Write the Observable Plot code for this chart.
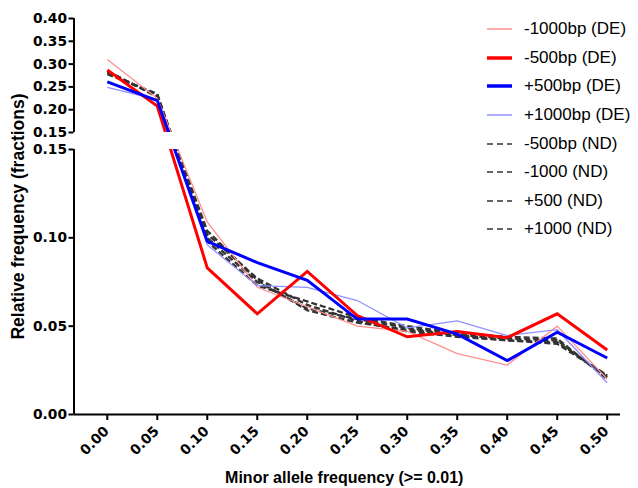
<!DOCTYPE html>
<html><head><meta charset="utf-8">
<script src="https://cdn.jsdelivr.net/npm/d3@7"></script>
<script src="https://cdn.jsdelivr.net/npm/@observablehq/plot@0.6"></script>
<style>
body{margin:0;background:#fff;}
#wrap{position:relative;width:638px;height:488px;overflow:hidden;}
#legend{position:absolute;left:487px;top:15px;font-family:"Liberation Sans",Arial,sans-serif;font-size:17px;color:#000;}
.row{display:flex;align-items:center;height:28.6px;white-space:nowrap;}
.row svg{margin-right:12px;flex:none;}
</style></head><body><div id="wrap"><div id="legend"></div></div>
<script>
// Minor allele frequency bins (x)
const maf = [0.00, 0.05, 0.10, 0.15, 0.20, 0.25, 0.30, 0.35, 0.40, 0.45, 0.50];
const seriesNames = ["-1000bp (DE)", "-500bp (DE)", "+500bp (DE)", "+1000bp (DE)", "-500bp (ND)", "-1000 (ND)", "+500 (ND)", "+1000 (ND)"];
// Relative frequency values
const minus1000DE = [0.310, 0.225, 0.109, 0.072, 0.061, 0.050, 0.047, 0.0345, 0.028, 0.050, 0.020];
const minus500DE  = [0.287, 0.208, 0.083, 0.057, 0.081, 0.056, 0.044, 0.047, 0.0435, 0.057, 0.0365];
const plus500DE   = [0.261, 0.220, 0.098, 0.086, 0.076, 0.054, 0.054, 0.0455, 0.0305, 0.0466, 0.032];
const plus1000DE  = [0.249, 0.222, 0.096, 0.073, 0.072, 0.0645, 0.049, 0.053, 0.0447, 0.048, 0.018];
const minus500ND  = [0.282, 0.232, 0.100, 0.075, 0.060, 0.054, 0.049, 0.045, 0.043, 0.042, 0.021];
const minus1000ND = [0.285, 0.228, 0.102, 0.077, 0.062, 0.053, 0.047, 0.044, 0.042, 0.040, 0.022];
const plus500ND   = [0.278, 0.235, 0.098, 0.073, 0.064, 0.055, 0.050, 0.046, 0.044, 0.043, 0.020];
const plus1000ND  = [0.283, 0.230, 0.104, 0.076, 0.059, 0.052, 0.048, 0.045, 0.042, 0.041, 0.022];
// Axis ticks (lower and upper segment of the broken y axis)
const yTickValuesLow = [0.00, 0.05, 0.10, 0.15];
const yTickValuesHigh = [0.15, 0.20, 0.25, 0.30, 0.35, 0.40];
const xTitle = "Minor allele frequency (>= 0.01)";
const yTitle = "Relative frequency (fractions)";

const valuesList = [minus1000DE, minus500DE, plus500DE, plus1000DE, minus500ND, minus1000ND, plus500ND, plus1000ND];
const styles = [
  {color: "#ff8f8f", width: 1.3, dash: null, lw: 1.5},
  {color: "#ff0000", width: 3, dash: null, lw: 3.5},
  {color: "#0000ff", width: 3, dash: null, lw: 3.5},
  {color: "#8f8fff", width: 1.3, dash: null, lw: 1.5},
  {color: "#333333", width: 2.3, dash: "6,3", lw: 1.5},
  {color: "#333333", width: 2.3, dash: "6,3", lw: 1.5},
  {color: "#333333", width: 2.3, dash: "6,3", lw: 1.5},
  {color: "#333333", width: 2.3, dash: "6,3", lw: 1.5}
];
const drawOrder = [4, 5, 6, 7, 0, 3, 1, 2];

// Broken-axis transform: lower segment [0, 0.15] linear, a gap, then a compressed upper segment [0.15, 0.40]
const breakAt = 0.15, yTop = 0.40;
const gapUnits = 0.009623;       // size of the white gap in axis units
const upperSlope = 0.25811;      // compression of the upper segment
const brk = v => v <= breakAt ? v : breakAt + gapUnits + (v - breakAt) * upperSlope;
const unbrk = u => u <= breakAt + 1e-9 ? u : breakAt + (u - breakAt - gapUnits) / upperSlope;
const uTop = brk(yTop);
const yTicksU = [...yTickValuesLow.map(v => v), ...yTickValuesHigh.map(v => v === breakAt ? breakAt + gapUnits : brk(v))];
const xMin = -0.0333, xMax = 0.5133;

const fmt = d3.format(".2f");
const lineMarks = drawOrder.map(k => Plot.line(valuesList[k], {
  x: (d, i) => maf[i], y: d => brk(d),
  stroke: styles[k].color, strokeWidth: styles[k].width,
  strokeDasharray: styles[k].dash, strokeLinejoin: "miter", strokeMiterlimit: 3, strokeLinecap: "butt"
}));

const chart = Plot.plot({
  width: 638, height: 488,
  marginLeft: 73.5, marginRight: 18, marginTop: 18, marginBottom: 74,
  x: {domain: [xMin, xMax]},
  y: {domain: [0, uTop]},
  style: {background: "white", overflow: "visible"},
  marks: [
    ...lineMarks,
    Plot.rect([0], {x1: xMin, x2: xMax, y1: breakAt, y2: breakAt + gapUnits, fill: "white"}),
    Plot.ruleY([0], {stroke: "black", strokeWidth: 2}),
    Plot.ruleX([xMin], {y1: 0, y2: breakAt, stroke: "black", strokeWidth: 2}),
    Plot.ruleX([xMin], {y1: breakAt + gapUnits, y2: uTop, stroke: "black", strokeWidth: 2}),
    Plot.axisY(yTicksU, {tickFormat: u => fmt(unbrk(u)), tickSize: 5, tickPadding: 2, strokeWidth: 2, stroke: "black", fill: "black",
      fontSize: 13.8, fontWeight: "bold", fontFamily: "DejaVu Sans", label: null}),
    // x tick marks
    Plot.axisX(maf, {tickFormat: () => "", tickSize: 6, strokeWidth: 2, stroke: "black", label: null}),
    // x tick labels, rotated
    Plot.axisX(maf, {tickFormat: fmt, tickSize: 0, tickPadding: 8, tickRotate: -45, fill: "black",
      fontSize: 13.8, fontWeight: "bold", fontFamily: "DejaVu Sans", label: null, dx: -0.7, dy: 6.4}),
    Plot.text([xTitle], {frameAnchor: "bottom", dx: -3, dy: 63, lineAnchor: "middle", textAnchor: "middle", fontSize: 16, fontWeight: "bold",
      fontFamily: "Liberation Sans", fill: "black"}),
    Plot.text([yTitle], {frameAnchor: "left", dx: -55.5, rotate: -90, textAnchor: "middle", lineAnchor: "middle", fontSize: 17.5, fontWeight: "bold",
      fontFamily: "Liberation Sans", fill: "black"})
  ]
});
document.getElementById("wrap").prepend(chart);

const legend = document.getElementById("legend");
seriesNames.forEach((name, k) => {
  const s = styles[k];
  const row = document.createElement("div");
  row.className = "row";
  row.innerHTML = `<svg width="25" height="6"><line x1="0" x2="25" y1="3" y2="3" stroke="${s.color}" stroke-width="${s.lw}" ${s.dash ? 'stroke-dasharray="6,4"' : ''}/></svg><span>${name}</span>`;
  legend.appendChild(row);
});
</script>
</body></html>
